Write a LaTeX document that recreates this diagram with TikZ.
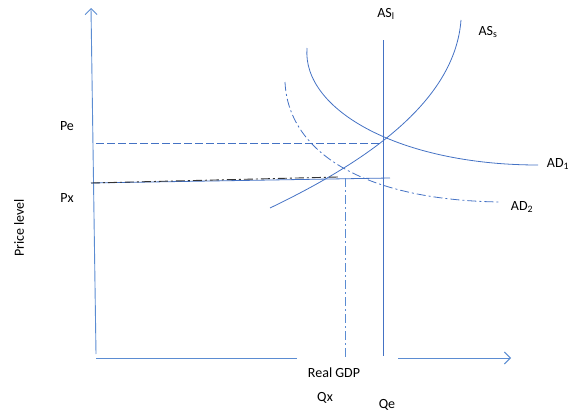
\documentclass[tikz,border=0pt]{standalone}
\usepackage{fontspec}
\setmainfont{Carlito}
\usetikzlibrary{arrows.meta}
\definecolor{axisblue}{RGB}{91,140,210}
\definecolor{curveblue}{RGB}{68,114,196}
\begin{document}
\begin{tikzpicture}[x=1pt,y=-1pt,
  axis/.style={draw=axisblue,line width=0.9pt},
  curve/.style={draw=curveblue,line width=0.8pt},
  dashdot/.style={dash pattern=on 9pt off 3pt on 2pt off 3pt},
  lbl/.style={font=\fontsize{14}{16}\selectfont,inner sep=0pt,text=black},
  tip/.style={-{Straight Barb[length=6pt,width=12pt,line width=0.9pt]}}]
\useasboundingbox (0,0) rectangle (584,415);
% coordinates
\coordinate (yb) at (96,354);
\coordinate (yt) at (91,8);
\coordinate (xa) at (96,358);
\coordinate (xb) at (297,358);
\coordinate (xc) at (398,358);
\coordinate (xd) at (511,358);
\coordinate (alt) at (383,40);
\coordinate (alb) at (383,356);
\coordinate (ass) at (270,208);
\coordinate (ase) at (461,20);
\coordinate (ad1s) at (307,48);
\coordinate (ad1e) at (538,165);
\coordinate (ad2s) at (285,82);
\coordinate (ad2e) at (500,202);
\coordinate (pes) at (96,143);
\coordinate (pee) at (382,143);
\coordinate (pxs) at (91,183);
\coordinate (pxe) at (390,178);
\coordinate (pxk) at (338,177);
\coordinate (qxt) at (345,178);
\coordinate (qxb) at (345,357);
% axes
\draw[axis,tip] (yb) -- (yt);
\draw[axis] (xa) -- (xb);
\draw[axis,tip] (xc) -- (xd);
% long-run AS
\draw[curve] (alt) -- (alb);
% short-run AS
\draw[curve] (ass) .. controls (370,160) and (455,100) .. (ase);
% AD1
\draw[curve] (ad1s) .. controls (302,110) and (400,165) .. (ad1e);
% AD2
\draw[curve,dashdot] (ad2s) .. controls (288,150) and (360,200) .. (ad2e);
% Pe dashed
\draw[curve,dash pattern=on 8pt off 3pt] (pes) -- (pee);
% Px line
\draw[curve] (pxs) -- (pxe);
\draw[black!80,line width=0.9pt,dashdot] (pxs) -- (pxk);
% Qx dash-dot
\draw[axis,line width=0.7pt,dashdot] (qxt) -- (qxb);
% labels
\node[lbl] (asl) at (386,14) {AS\textsubscript{l}};
\node[lbl] (ass-l) at (488,32) {AS\textsubscript{s}};
\node[lbl] (ad1) at (558,164) {AD\textsubscript{1}};
\node[lbl] (ad2) at (522,207) {AD\textsubscript{2}};
\node[lbl] (pe) at (67,126) {Pe};
\node[lbl] (px) at (67,198) {Px};
\node[lbl,rotate=90] (pl) at (19,228) {Price level};
\node[lbl] (gdp) at (334,373) {Real GDP};
\node[lbl] (qx) at (325,398) {Qx};
\node[lbl] (qe) at (387,405) {Qe};
\end{tikzpicture}
\end{document}
